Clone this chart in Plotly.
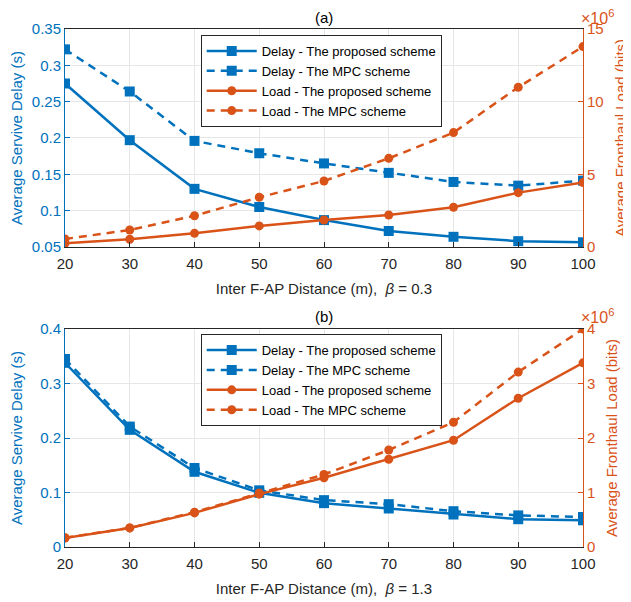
import plotly.graph_objects as go
from plotly.subplots import make_subplots

distance = [20, 30, 40, 50, 60, 70, 80, 90, 100]

# (a) beta = 0.3
delay_prop_a = [0.275, 0.197, 0.130, 0.105, 0.087, 0.072, 0.064, 0.058, 0.0565]
delay_mpc_a = [0.322, 0.264, 0.196, 0.179, 0.165, 0.152, 0.1395, 0.1344, 0.1413]
load_prop_a = [0.25e6, 0.53e6, 0.94e6, 1.45e6, 1.86e6, 2.2e6, 2.73e6, 3.74e6, 4.43e6]
load_mpc_a = [0.55e6, 1.17e6, 2.15e6, 3.42e6, 4.54e6, 6.1e6, 7.87e6, 10.99e6, 13.79e6]

# (b) beta = 1.3
delay_prop_b = [0.338, 0.215, 0.138, 0.0994, 0.0805, 0.0707, 0.0596, 0.051, 0.049]
delay_mpc_b = [0.345, 0.221, 0.145, 0.104, 0.086, 0.0786, 0.0657, 0.058, 0.055]
load_prop_b = [0.166e6, 0.35e6, 0.626e6, 0.97e6, 1.27e6, 1.61e6, 1.96e6, 2.73e6, 3.38e6]
load_mpc_b = [0.17e6, 0.35e6, 0.64e6, 0.99e6, 1.33e6, 1.78e6, 2.29e6, 3.21e6, 4.0e6]

names = ["Delay - The proposed scheme", "Delay - The MPC scheme",
         "Load - The proposed scheme", "Load - The MPC scheme"]

BLUE = "#0072BD"
ORANGE = "#D95319"
DARK = "#262626"
GRID = "#E6E6E6"
FONT = "Liberation Sans, Arial, sans-serif"

fig = make_subplots(rows=2, cols=1, specs=[[{"secondary_y": True}], [{"secondary_y": True}]],
                    vertical_spacing=0.1584)

def add_panel(row, dp, dm, lp, lm, legend):
    fig.add_trace(go.Scatter(x=distance, y=lp, name=names[2], mode="lines+markers",
                             line=dict(color=ORANGE, width=2.5),
                             marker=dict(symbol="circle", size=9, color=ORANGE),
                             legend=legend, legendrank=3), row=row, col=1, secondary_y=True)
    fig.add_trace(go.Scatter(x=distance, y=lm, name=names[3], mode="lines+markers",
                             line=dict(color=ORANGE, width=2.5, dash="8px,6px"),
                             marker=dict(symbol="circle", size=9, color=ORANGE),
                             legend=legend, legendrank=4), row=row, col=1, secondary_y=True)
    fig.add_trace(go.Scatter(x=distance, y=dp, name=names[0], mode="lines+markers",
                             line=dict(color=BLUE, width=2.5),
                             marker=dict(symbol="square", size=10, color=BLUE),
                             legend=legend, legendrank=1), row=row, col=1, secondary_y=False)
    fig.add_trace(go.Scatter(x=distance, y=dm, name=names[1], mode="lines+markers",
                             line=dict(color=BLUE, width=2.5, dash="8px,6px"),
                             marker=dict(symbol="square", size=10, color=BLUE),
                             legend=legend, legendrank=2), row=row, col=1, secondary_y=False)

add_panel(1, delay_prop_a, delay_mpc_a, load_prop_a, load_mpc_a, "legend")
add_panel(2, delay_prop_b, delay_mpc_b, load_prop_b, load_mpc_b, "legend2")

xcommon = dict(range=[20, 100], dtick=10, ticks="inside", ticklen=5, tickcolor=DARK,
               showline=True, linecolor=DARK, linewidth=1, mirror=True,
               showgrid=True, gridcolor=GRID, zeroline=False, automargin=False,
               tickfont=dict(size=15, color=DARK, family=FONT), ticklabelstandoff=3,
               domain=[0, 1])
fig.update_xaxes(**xcommon)
fig.update_xaxes(title=dict(text="Inter F-AP Distance (m),  <i>β</i> = 0.3",
                            font=dict(size=15, color=DARK, family=FONT), standoff=12), row=1, col=1)
fig.update_xaxes(title=dict(text="Inter F-AP Distance (m),  <i>β</i> = 1.3",
                            font=dict(size=15, color=DARK, family=FONT), standoff=12), row=2, col=1)

ycommon = dict(ticks="inside", ticklen=5, tickcolor=BLUE, showline=True, linecolor=BLUE,
               linewidth=1, showgrid=True, gridcolor=GRID, zeroline=False, automargin=False,
               tickfont=dict(size=15, color=BLUE, family=FONT), ticklabelstandoff=0,
               title=dict(text="Average Servive Delay (s)", font=dict(size=15, color=BLUE, family=FONT),
                          standoff=13))
fig.update_yaxes(range=[0.05, 0.35], dtick=0.05, tickformat=".2~f", row=1, col=1, secondary_y=False, **ycommon)
fig.update_yaxes(range=[0, 0.4], dtick=0.1, row=2, col=1, secondary_y=False, **ycommon)

y2common = dict(ticks="inside", ticklen=5, tickcolor=ORANGE, showline=True, linecolor=ORANGE,
                linewidth=1, showgrid=False, zeroline=False, automargin=False,
                tickfont=dict(size=15, color=ORANGE, family=FONT), ticklabelstandoff=0,
                title=dict(text="Average Fronthaul Load (bits)", font=dict(size=15, color=ORANGE, family=FONT),
                           standoff=12))
fig.update_yaxes(range=[0, 15e6], tickvals=[0, 5e6, 10e6, 15e6], ticktext=["0", "5", "10", "15"],
                 row=1, col=1, secondary_y=True, **y2common)
fig.update_yaxes(range=[0, 4e6], tickvals=[0, 1e6, 2e6, 3e6, 4e6], ticktext=["0", "1", "2", "3", "4"],
                 row=2, col=1, secondary_y=True, **y2common)

fig.update_layout(
    width=623, height=594,
    margin=dict(l=57, r=48, t=21, b=55),
    paper_bgcolor="white", plot_bgcolor="white",
    font=dict(family=FONT, color=DARK),
    xaxis=dict(domain=[0, 1]), xaxis2=dict(domain=[0, 1]),
    yaxis=dict(domain=[0.5792, 1]), yaxis2=dict(domain=[0.5792, 1]),
    yaxis3=dict(domain=[0, 0.4208]), yaxis4=dict(domain=[0, 0.4208]),
    legend=dict(x=0.262, y=0.9885, xanchor="left", yanchor="top",
                bgcolor="white", bordercolor=DARK, borderwidth=1,
                font=dict(size=13, color="black", family=FONT), tracegroupgap=0,
                traceorder="normal", itemwidth=50),
    legend2=dict(x=0.262, y=0.411, xanchor="left", yanchor="top",
                 bgcolor="white", bordercolor=DARK, borderwidth=1,
                 font=dict(size=13, color="black", family=FONT), tracegroupgap=0,
                 traceorder="normal", itemwidth=50),
    annotations=[
        dict(text="(a)", x=0.5, y=1.0, xref="paper", yref="paper", yanchor="bottom", yshift=1,
             showarrow=False, font=dict(size=15, color="black", family=FONT)),
        dict(text="(b)", x=0.5, y=0.4208, xref="paper", yref="paper", yanchor="bottom", yshift=2,
             showarrow=False, font=dict(size=15, color="black", family=FONT)),
        dict(text="×10<sup>6</sup>", x=1.0, y=1.0, xref="paper", yref="paper", xanchor="left",
             yanchor="bottom", xshift=-4, yshift=0, showarrow=False,
             font=dict(size=16, color=ORANGE, family=FONT)),
        dict(text="×10<sup>6</sup>", x=1.0, y=0.4208, xref="paper", yref="paper", xanchor="left",
             yanchor="bottom", xshift=-4, yshift=1, showarrow=False,
             font=dict(size=16, color=ORANGE, family=FONT)),
    ],
)

fig.write_html("out.html")
